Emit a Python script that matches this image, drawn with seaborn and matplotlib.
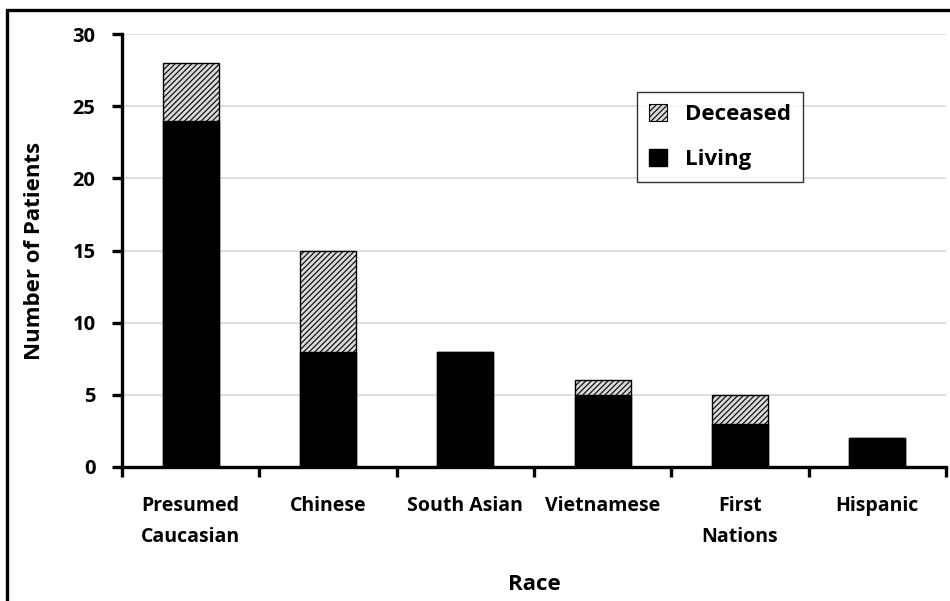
import matplotlib
matplotlib.use("Agg")
import matplotlib.pyplot as plt
import matplotlib.patches as mpatches
import numpy as np
import pandas as pd
import seaborn as sns

# DATA

races = ["Presumed\nCaucasian", "Chinese", "South Asian", "Vietnamese", "First\nNations", "Hispanic"]
living = [24, 8, 8, 5, 3, 2]
deceased = [4, 7, 0, 1, 2, 0]

df = pd.DataFrame({"race": races, "living": living, "deceased": deceased})
df["total"] = df["living"] + df["deceased"]

# STYLE

sns.set_style("white")
plt.rcParams["font.family"] = ["Open Sans", "DejaVu Sans"]
plt.rcParams["font.weight"] = "bold"
plt.rcParams["text.color"] = "black"
plt.rcParams["axes.labelcolor"] = "black"
plt.rcParams["xtick.color"] = "black"
plt.rcParams["ytick.color"] = "black"
plt.rcParams["hatch.color"] = "#3a3a3a"
plt.rcParams["hatch.linewidth"] = 0.8

fig = plt.figure(figsize=(9.5, 6.01), dpi=100)
ax = fig.add_axes([122 / 950, 1 - 467 / 601, (946 - 122) / 950, (467 - 34) / 601])

# stacked bars: total (hatched) underneath, living (black) on top
sns.barplot(data=df, x="race", y="total", color="#d9d9d9", width=0.41,
            edgecolor="black", linewidth=1, ax=ax, zorder=2)
n = len(df)
for p in ax.patches[:n]:
    p.set_hatch("//////")
sns.barplot(data=df, x="race", y="living", color="black", width=0.41,
            edgecolor="black", linewidth=1, ax=ax, zorder=3)

# axes
ax.set_xlim(-0.5, n - 0.5)
ax.set_ylim(0, 30)
ax.set_yticks(range(0, 31, 5))
ax.yaxis.grid(True, color="#d9d9d9", linewidth=1.2, zorder=0)
ax.set_axisbelow(True)
for s in ["top", "right"]:
    ax.spines[s].set_visible(False)
for s in ["left", "bottom"]:
    ax.spines[s].set_linewidth(2.4)
    ax.spines[s].set_color("black")

ax.set_xticks(np.arange(-0.5, n, 1.0))
ax.set_xticklabels([])
ax.set_xticks(range(n), minor=True)
ax.set_xticklabels(races, minor=True, fontsize=14, fontweight="bold", linespacing=1.7, va="top")
ax.tick_params(axis="x", which="major", bottom=True, length=7, width=2.4, direction="out")
ax.tick_params(axis="x", which="minor", bottom=True, length=0, pad=21)
ax.tick_params(axis="y", left=True, length=7, width=2.4, direction="out",
               labelsize=14.5, pad=12)
for t in ax.get_yticklabels():
    t.set_fontweight("bold")

ax.set_xlabel("Race", fontsize=16, fontweight="bold")
ax.set_ylabel("Number of Patients", fontsize=16, fontweight="bold")
ax.xaxis.set_label_coords(0.5, -0.247)
ax.yaxis.set_label_coords(-0.093, 0.5)

# legend
h_dec = mpatches.Patch(facecolor="#d9d9d9", edgecolor="black", hatch="//////", linewidth=0.8)
h_liv = mpatches.Patch(facecolor="black", edgecolor="black")
leg = ax.legend([h_dec, h_liv], ["Deceased", "Living"], loc="upper left",
                bbox_to_anchor=(0.625, 0.866), frameon=True, fancybox=False,
                prop={"size": 16, "weight": "bold"}, handlelength=0.8, handleheight=0.8,
                labelspacing=1.05, borderpad=0.55, handletextpad=0.8, borderaxespad=0)
leg.get_frame().set_edgecolor("black")
leg.get_frame().set_linewidth(1)

# outer frame around the figure
fig.patches.append(mpatches.Rectangle((7 / 950, -0.1), 1.2, 1 - 10 / 601 + 0.1,
                                      transform=fig.transFigure, fill=False,
                                      edgecolor="black", linewidth=2.4))

fig.savefig("out.png", dpi=100)
